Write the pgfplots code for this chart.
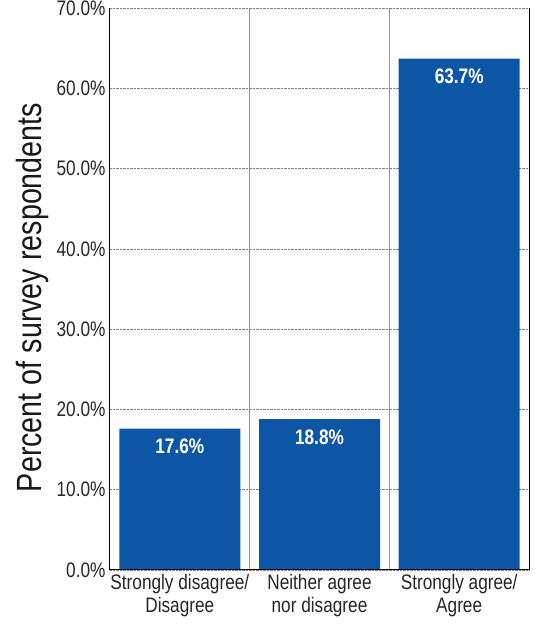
\documentclass[border=0pt]{standalone}
\usepackage{fontspec}
\setmainfont{Liberation Sans}[FakeStretch=0.82]
\usepackage{pgfplots}
\pgfplotsset{compat=1.18}
\definecolor{barblue}{HTML}{0D56A6}

\begin{document}
\begin{tikzpicture}
% page size: 536 x 628
\path[use as bounding box] (-110pt,-58pt) rectangle (426pt,570pt);
\begin{axis}[
    at={(0,0)}, anchor=south west,
    scale only axis,
    width=419pt, height=562pt,
    xmin=-0.5, xmax=2.5,
    ymin=0, ymax=70,
    ytick={0,10,...,70},
    xtick={0,1,2},
    xticklabels={Strongly disagree/\\Disagree, Neither agree\\nor disagree, Strongly agree/\\Agree},
    minor xtick={0.5,1.5},
    minor x grid style={solid, gray!80, line width=0.8pt},
    xminorgrids=true,
    ymajorgrids=true,
    major grid style={densely dotted, gray, line width=0.6pt},
    major tick length=0pt, minor tick length=0pt,
    axis line style={draw=none},
    /pgf/number format/assume math mode=true,
    yticklabel={\pgfmathprintnumber[fixed,fixed zerofill,precision=1]{\tick}\%},
    yticklabel style={font=\fontsize{21}{23}\selectfont, text=black!85, xshift=-1pt},
    xticklabel style={font=\fontsize{21}{23}\selectfont, align=center, text=black!85, yshift=-1pt},
    ylabel={Percent of survey respondents},
    ylabel style={font=\fontsize{35}{37}\selectfont, text=black!90, at={(ticklabel cs:0.485)}},
    ylabel shift=1pt,
    ybar, bar width=121pt,
    nodes near coords={\textbf{\pgfmathprintnumber[fixed,fixed zerofill,precision=1]{\pgfplotspointmeta}\%}},
    nodes near coords style={anchor=north, text=white, font=\fontsize{21}{23}\selectfont, yshift=-7pt},
    clip=false,
]
\addplot[fill=barblue, draw=none] coordinates {(0,17.6) (1,18.8) (2,63.7)};
\draw[black, line width=1pt] (rel axis cs:0,1) -- (rel axis cs:0,0) -- (rel axis cs:1,0) -- (rel axis cs:1,1);
\end{axis}
\end{tikzpicture}
\end{document}
